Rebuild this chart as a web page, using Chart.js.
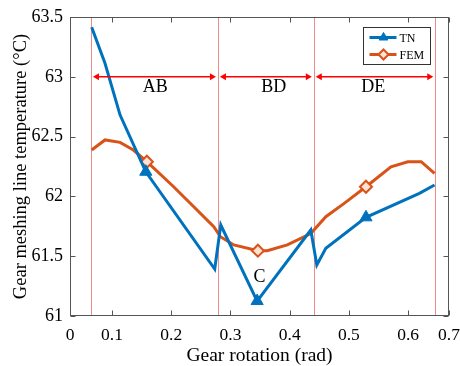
<!DOCTYPE html>
<html lang="en">
<head>
<meta charset="UTF-8">
<title>Gear meshing line temperature</title>
<style>
  html, body { margin: 0; padding: 0; background: #fff; }
  #wrap { width: 460px; height: 366px; }
</style>
</head>
<body>
<div id="wrap"><canvas id="myChart" width="460" height="366"></canvas></div>
<script src="https://cdn.jsdelivr.net/npm/chart.js"></script>
<script>
// --- data ---
const tnX = [0.0656, 0.0881, 0.1136, 0.157, 0.2734, 0.2836, 0.345, 0.4356, 0.4458, 0.461, 0.5288, 0.619, 0.6446];
const tnY = [63.414, 63.113, 62.68, 62.206, 61.393, 61.761, 61.125, 61.719, 61.426, 61.566, 61.825, 62.026, 62.095];
const tnMarkers = [3, 6, 10];

const femX = [0.0656, 0.0881, 0.1136, 0.136, 0.1588, 0.204, 0.2435, 0.2718, 0.283, 0.3056, 0.3463, 0.362, 0.396, 0.4356, 0.461, 0.492, 0.5288, 0.571, 0.5995, 0.622, 0.6446];
const femY = [62.388, 62.472, 62.452, 62.388, 62.29, 62.081, 61.886, 61.747, 61.663, 61.594, 61.546, 61.546, 61.594, 61.69, 61.83, 61.942, 62.081, 62.248, 62.29, 62.29, 62.193];
const femMarkers = [4, 10, 16];

// axis: ticks 0.1..0.6 are evenly spaced; the "0" and "0.7" labels sit at the box edges
const xMin = 0.029, xMax = 0.669;
const xTickValues = [0.029, 0.1, 0.2, 0.3, 0.4, 0.5, 0.6, 0.669];
const xTickLabels = ['0', '0.1', '0.2', '0.3', '0.4', '0.5', '0.6', '0.7'];
const yTickValues = [61, 61.5, 62, 62.5, 63, 63.5];
const yTickLabels = ['61', '61.5', '62', '62.5', '63', '63.5'];

// zone boundaries (red lines) and labels
const zoneBounds = [0.0644, 0.2788, 0.4407, 0.6458];
const zoneNames = ['AB', 'BD', 'DE'];
const zoneLabelX = [0.173, 0.373, 0.541];
const zoneArrowY = 63.0;
const zoneLabelY = 62.91;
const pointLabel = { text: 'C', x: 0.349, y: 61.326 };

const BLUE = '#0072BD';
const ORANGE = '#D95319';
const SERIF = "'Liberation Serif', 'Times New Roman', serif";

function pts(xs, ys) { return xs.map((x, i) => ({ x: x, y: ys[i] })); }
function radii(n, marks, r) { const a = []; for (let i = 0; i < n; i++) a.push(marks.includes(i) ? r : 0); return a; }

function arrowHead(ctx, x, y, dir) {
    ctx.beginPath();
    ctx.moveTo(x, y);
    ctx.lineTo(x - dir * 6, y - 3.5);
    ctx.lineTo(x - dir * 6, y + 3.5);
    ctx.closePath();
    ctx.fill();
}

const decor = {
    id: 'decor',
    beforeDatasetsDraw(chart) {
        const ctx = chart.ctx, a = chart.chartArea, xs = chart.scales.x;
        ctx.save();
        ctx.strokeStyle = '#ee8a8a';
        ctx.lineWidth = 1;
        zoneBounds.forEach(v => {
            const px = Math.round(xs.getPixelForValue(v)) + 0.5;
            ctx.beginPath(); ctx.moveTo(px, a.top); ctx.lineTo(px, a.bottom); ctx.stroke();
        });
        ctx.restore();
    },
    afterDatasetsDraw(chart) {
        const ctx = chart.ctx, a = chart.chartArea, xs = chart.scales.x, ys = chart.scales.y;
        ctx.save();
        // arrows
        ctx.strokeStyle = '#ff0000';
        ctx.fillStyle = '#ff0000';
        ctx.lineWidth = 1.5;
        const ay = ys.getPixelForValue(zoneArrowY);
        for (let i = 0; i < zoneNames.length; i++) {
            const x1 = xs.getPixelForValue(zoneBounds[i]) + 2;
            const x2 = xs.getPixelForValue(zoneBounds[i + 1]) - 2;
            ctx.beginPath(); ctx.moveTo(x1 + 4, ay); ctx.lineTo(x2 - 4, ay); ctx.stroke();
            arrowHead(ctx, x1, ay, -1);
            arrowHead(ctx, x2, ay, 1);
        }
        // zone labels
        ctx.fillStyle = '#000';
        ctx.font = '18px ' + SERIF;
        ctx.textAlign = 'center';
        ctx.textBaseline = 'middle';
        zoneNames.forEach((n, i) => ctx.fillText(n, xs.getPixelForValue(zoneLabelX[i]), ys.getPixelForValue(zoneLabelY)));
        ctx.fillText(pointLabel.text, xs.getPixelForValue(pointLabel.x), ys.getPixelForValue(pointLabel.y));

        // frame and inward ticks
        ctx.strokeStyle = '#555';
        ctx.lineWidth = 1;
        const L = Math.round(a.left) + 0.5, R = Math.round(a.right) - 0.5;
        const T = Math.round(a.top) + 0.5, B = Math.round(a.bottom) - 0.5;
        ctx.strokeRect(L, T, R - L, B - T);
        ctx.beginPath();
        xTickValues.forEach(v => {
            const px = Math.round(xs.getPixelForValue(v)) + 0.5;
            ctx.moveTo(px, B); ctx.lineTo(px, B - 5);
            ctx.moveTo(px, T); ctx.lineTo(px, T + 5);
        });
        yTickValues.forEach(v => {
            const py = Math.round(ys.getPixelForValue(v)) + 0.5;
            ctx.moveTo(L, py); ctx.lineTo(L + 5, py);
            ctx.moveTo(R, py); ctx.lineTo(R - 5, py);
        });
        ctx.stroke();

        // legend
        const bw = 67, bh = 37;
        const bx = Math.round(a.right - 19 - bw) + 0.5, by = Math.round(a.top + 10) + 0.5;
        ctx.fillStyle = '#fff';
        ctx.fillRect(bx, by, bw, bh);
        ctx.strokeStyle = '#333';
        ctx.strokeRect(bx, by, bw, bh);
        chart.data.datasets.forEach((ds, i) => {
            const ly = by + 10 + i * 17;
            ctx.strokeStyle = ds.borderColor;
            ctx.lineWidth = 3;
            ctx.beginPath(); ctx.moveTo(bx + 6, ly); ctx.lineTo(bx + 33, ly); ctx.stroke();
            ctx.fillStyle = ds.pointBackgroundColor;
            ctx.strokeStyle = ds.borderColor;
            ctx.lineWidth = ds.pointBorderWidth;
            Chart.helpers.drawPoint(ctx, { pointStyle: ds.pointStyle, radius: 5, borderWidth: ds.pointBorderWidth }, bx + 20, ly);
            ctx.fillStyle = '#000';
            ctx.font = '12px ' + SERIF;
            ctx.textAlign = 'left';
            ctx.fillText(ds.label, bx + 36, ly + 1);
        });
        ctx.restore();
    }
};

const ctx = document.getElementById('myChart').getContext('2d');
new Chart(ctx, {
    type: 'line',
    data: {
        datasets: [{
            label: 'TN',
            data: pts(tnX, tnY),
            borderColor: BLUE,
            backgroundColor: BLUE,
            pointBackgroundColor: BLUE,
            pointBorderColor: BLUE,
            pointBorderWidth: 1,
            pointStyle: 'triangle',
            pointRadius: radii(tnX.length, tnMarkers, 7),
            borderWidth: 3,
            tension: 0
        }, {
            label: 'FEM',
            data: pts(femX, femY),
            borderColor: ORANGE,
            backgroundColor: ORANGE,
            pointBackgroundColor: '#fbe3d6',
            pointBorderColor: ORANGE,
            pointBorderWidth: 2,
            pointStyle: 'rectRot',
            pointRadius: radii(femX.length, femMarkers, 6),
            borderWidth: 3,
            tension: 0
        }]
    },
    options: {
        responsive: false,
        animation: false,
        events: [],
        layout: { padding: { top: 17, right: 11, left: 0, bottom: 0 } },
        plugins: { legend: { display: false }, tooltip: { enabled: false } },
        scales: {
            x: {
                type: 'linear',
                min: xMin,
                max: xMax,
                grid: { display: false, drawTicks: false },
                border: { display: false },
                afterBuildTicks: s => { s.ticks = xTickValues.map(v => ({ value: v })); },
                afterFit: s => { s.height = 50; s.paddingLeft = 0; s.paddingRight = 0; },
                ticks: {
                    autoSkip: false,
                    maxRotation: 0,
                    padding: 9,
                    color: '#000',
                    font: { family: SERIF, size: 17.5 },
                    callback: (v, i) => xTickLabels[i]
                },
                title: {
                    display: true,
                    text: 'Gear rotation (rad)',
                    color: '#000',
                    font: { family: SERIF, size: 19.5, lineHeight: 1 },
                    padding: { top: 0, bottom: 0 }
                }
            },
            y: {
                min: 61,
                max: 63.5,
                grid: { display: false, drawTicks: false },
                border: { display: false },
                afterBuildTicks: s => { s.ticks = yTickValues.map(v => ({ value: v })); },
                afterFit: s => { s.width = 70; s.paddingTop = 0; s.paddingBottom = 0; },
                ticks: {
                    padding: 7,
                    color: '#000',
                    font: { family: SERIF, size: 18 },
                    callback: (v, i) => yTickLabels[i]
                },
                title: {
                    display: true,
                    text: 'Gear meshing line temperature (°C)',
                    color: '#000',
                    font: { family: SERIF, size: 18.5, lineHeight: 1 },
                    padding: { top: 12, bottom: 0 }
                }
            }
        }
    },
    plugins: [decor]
});
</script>
</body>
</html>
